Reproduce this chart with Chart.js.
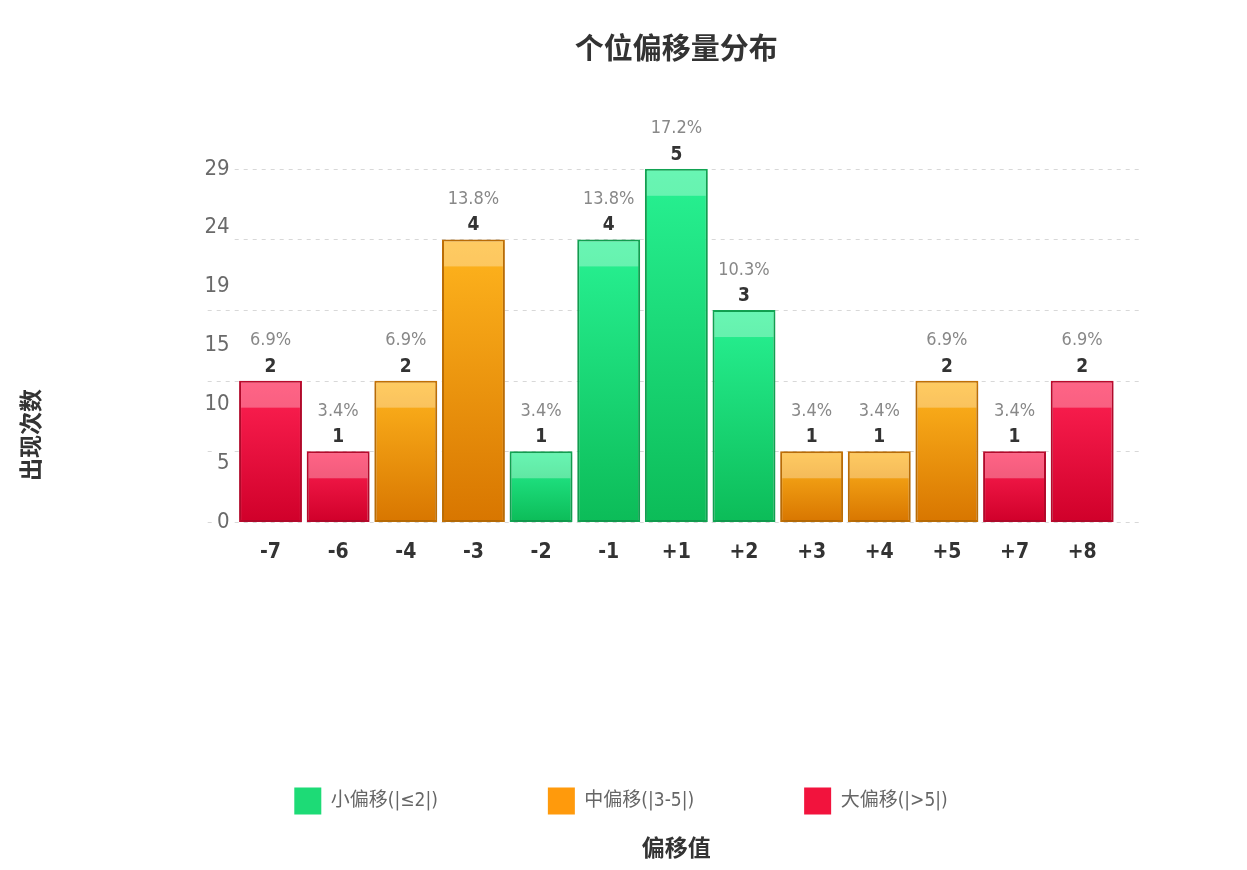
<!DOCTYPE html>
<html lang="zh-CN">
<head>
<meta charset="utf-8">
<title>个位偏移量分布</title>
<script src="https://cdn.jsdelivr.net/npm/chart.js@4.4.1/dist/chart.umd.min.js"></script>
<style>
  html, body { margin: 0; padding: 0; background: #fff; }
  #wrap { width: 1247px; height: 870px; }
</style>
</head>
<body>
<div id="wrap"><canvas id="offsetChart" width="1247" height="870"></canvas></div>
<script>
// 数据
const offsets = ['-7', '-6', '-4', '-3', '-2', '-1', '+1', '+2', '+3', '+4', '+5', '+7', '+8'];
const counts = [2, 1, 2, 4, 1, 4, 5, 3, 1, 1, 2, 1, 2];
const yTickLabels = ['0', '5', '10', '15', '19', '24', '29'];
const groupNames = ['小偏移(|≤2|)', '中偏移(|3-5|)', '大偏移(|>5|)'];

// 颜色: 小 / 中 / 大
const groupColors = ['#1ddb76', '#ff9a0c', '#f2133d'];
const gradTop = ['#28f293', '#ffb51e', '#ff2253'];
const gradBottom = ['#0cbc58', '#d87600', '#d0002a'];
const borderColors = ['#12a955', '#c77406', '#c00a2e'];

const FONT = "'Liberation Sans Narrow', 'DejaVu Sans Condensed', 'Noto Sans CJK SC', sans-serif";
Chart.defaults.font.family = FONT;

const total = counts.reduce((a, b) => a + b, 0);
const maxCount = Math.max(...counts);

function groupOf(label) {
  const v = Math.abs(parseInt(label, 10));
  return v <= 2 ? 0 : (v <= 5 ? 1 : 2);
}
const groups = offsets.map(groupOf);

// 虚线网格 (比绘图区略宽)
const gridPlugin = {
  id: 'dashGrid',
  beforeDraw(chart) {
    const {ctx, chartArea, scales} = chart;
    ctx.save();
    ctx.strokeStyle = '#d8d8d8';
    ctx.lineWidth = 1;
    ctx.setLineDash([4, 5]);
    scales.y.ticks.forEach(t => {
      const py = Math.round(scales.y.getPixelForValue(t.value)) + 0.5;
      ctx.beginPath();
      ctx.moveTo(chartArea.left - 29, py);
      ctx.lineTo(chartArea.right + 26, py);
      ctx.stroke();
    });
    ctx.restore();
  }
};

const shadowPlugin = {
  id: 'barShadow',
  beforeDatasetsDraw(chart) {
    const c = chart.ctx;
    c.save();
    c.shadowColor = 'rgba(0,0,0,0.2)';
    c.shadowBlur = 7;
    c.shadowOffsetY = 1;
  },
  afterDatasetsDraw(chart) {
    chart.ctx.restore();
  }
};

// 柱顶高光 + 数值/百分比
const barLabelPlugin = {
  id: 'barLabels',
  afterDatasetsDraw(chart) {
    const ctx = chart.ctx;
    const meta = chart.getDatasetMeta(0);
    ctx.save();
    meta.data.forEach((bar, i) => {
      const {x, y, width} = bar.getProps(['x', 'y', 'width'], true);
      ctx.fillStyle = 'rgba(255,255,255,0.3)';
      ctx.fillRect(x - width / 2 + 2, y + 2, width - 4, 25);

      ctx.textAlign = 'center';
      ctx.textBaseline = 'middle';
      ctx.fillStyle = '#333';
      ctx.font = 'bold 19px ' + FONT;
      ctx.fillText(String(counts[i]), x, y - 14);
      ctx.fillStyle = '#888';
      ctx.font = '18px ' + FONT;
      ctx.fillText((counts[i] / total * 100).toFixed(1) + '%', x, y - 40);
    });
    ctx.restore();
  }
};

const yTitlePlugin = {
  id: 'yTitle',
  afterDraw(chart) {
    const ctx = chart.ctx;
    ctx.save();
    ctx.translate(33, chart.height / 2);
    ctx.rotate(-Math.PI / 2);
    ctx.font = 'bold 23px ' + FONT;
    ctx.fillStyle = '#333';
    ctx.textAlign = 'center';
    ctx.textBaseline = 'middle';
    ctx.fillText('出现次数', 0, 0);
    ctx.restore();
  }
};

new Chart(document.getElementById('offsetChart'), {
  type: 'bar',
  data: {
    labels: offsets,
    datasets: [{
      label: '出现次数',
      data: counts,
      yAxisID: 'y',
      backgroundColor: function(ctx) {
        const chart = ctx.chart;
        if (ctx.type !== 'data') return gradTop[0];
        const g = groups[ctx.dataIndex];
        if (!chart.chartArea) return gradTop[g];
        const ys = chart.scales.y;
        const top = ys.getPixelForValue(ctx.raw);
        const bottom = ys.getPixelForValue(0);
        const grad = chart.ctx.createLinearGradient(0, top, 0, bottom);
        grad.addColorStop(0, gradTop[g]);
        grad.addColorStop(1, gradBottom[g]);
        return grad;
      },
      borderColor: ctx => ctx.type === 'data' ? borderColors[groups[ctx.dataIndex]] : borderColors[0],
      borderWidth: 2,
      borderSkipped: false,
      barPercentage: 0.93,
      categoryPercentage: 1
    }]
  },
  options: {
    responsive: false,
    animation: false,
    layout: { padding: { left: 126, right: 131, top: 0, bottom: 0 } },
    plugins: {
      title: {
        display: true,
        text: '个位偏移量分布',
        fullSize: false,
        color: '#333',
        font: { size: 29, weight: 'bold' },
        padding: { top: 34, bottom: 100 }
      },
      subtitle: {
        display: true,
        position: 'bottom',
        text: '偏移值',
        fullSize: false,
        color: '#333',
        font: { size: 23, weight: 'bold' },
        padding: { top: 12, bottom: 6 }
      },
      legend: {
        position: 'bottom',
        onClick: null,
        labels: {
          boxWidth: 27,
          boxHeight: 27,
          padding: 110,
          color: '#666',
          font: { size: 19 },
          generateLabels: () => groupNames.map((t, i) => ({
            text: t,
            fillStyle: groupColors[i],
            strokeStyle: groupColors[i],
            fontColor: '#666',
            lineWidth: 0,
            hidden: false,
            datasetIndex: 0
          }))
        }
      },
      tooltip: { enabled: false }
    },
    scales: {
      x: {
        grid: { display: false, drawTicks: false },
        border: { display: false },
        ticks: { color: '#333', padding: 18, font: { size: 21, weight: 'bold' } },
        afterFit: a => { a.height = 155.5; }
      },
      y: {
        display: false,
        min: 0,
        max: maxCount,
        ticks: { stepSize: 1 }
      },
      y2: {
        position: 'left',
        min: 0,
        max: total,
        grid: { display: false, drawTicks: false },
        border: { display: false },
        afterBuildTicks: a => {
          a.ticks = yTickLabels.map((_, i) => ({ value: total * i / (yTickLabels.length - 1) }));
        },
        ticks: {
          callback: (v, i) => yTickLabels[i],
          color: '#6a6a6a',
          padding: 7,
          font: { size: 22 },
          showLabelBackdrop: true,
          backdropColor: '#fff',
          backdropPadding: 2
        },
        afterFit: a => { a.width = 110.7; }
      }
    }
  },
  plugins: [gridPlugin, shadowPlugin, barLabelPlugin, yTitlePlugin]
});
</script>
</body>
</html>
